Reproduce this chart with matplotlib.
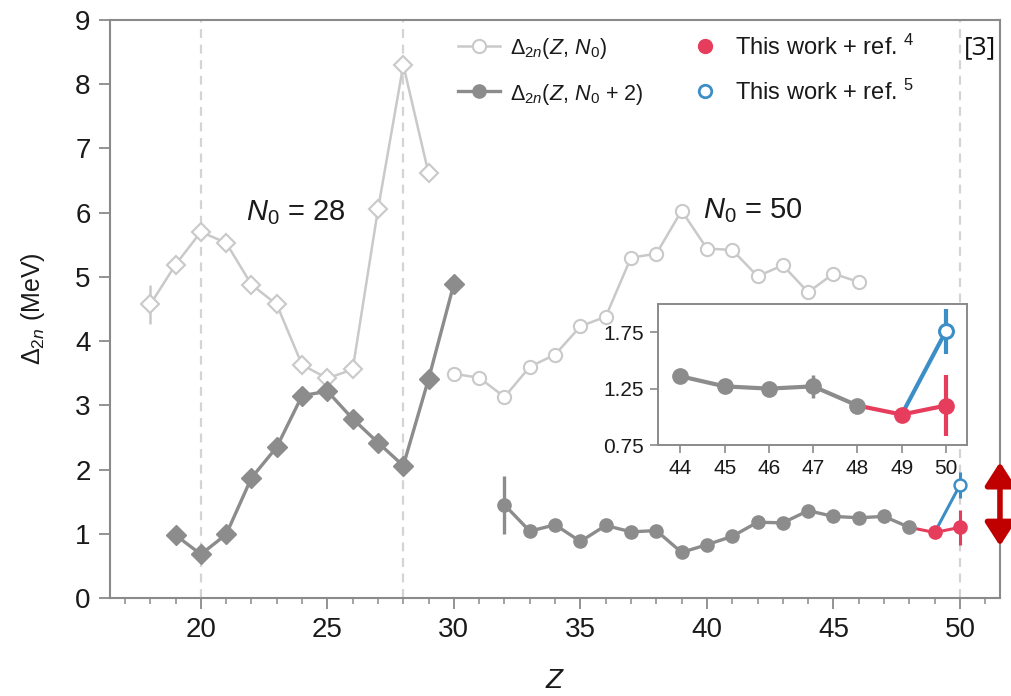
import matplotlib
matplotlib.use("Agg")
import matplotlib.pyplot as plt
from matplotlib.lines import Line2D

plt.rcParams['font.family'] = ['Liberation Sans', 'DejaVu Sans']
plt.rcParams['mathtext.fontset'] = 'custom'
plt.rcParams['mathtext.rm'] = 'Liberation Sans'
plt.rcParams['mathtext.it'] = 'Liberation Sans:italic'
plt.rcParams['mathtext.bf'] = 'Liberation Sans:bold'

# N0 = 28 region
z_n28 = list(range(18, 30))
d2n_n28 = [4.57, 5.19, 5.70, 5.53, 4.88, 4.57, 3.63, 3.42, 3.56, 6.05, 8.30, 6.61]
err_n28 = [0.3, 0, 0, 0, 0, 0, 0, 0, 0, 0, 0, 0]
z_n28p2 = list(range(19, 31))
d2n_n28p2 = [0.98, 0.68, 0.99, 1.87, 2.35, 3.15, 3.22, 2.79, 2.42, 2.06, 3.41, 4.89]

# N0 = 50 region
z_n50 = list(range(30, 47))
d2n_n50 = [3.49, 3.43, 3.13, 3.60, 3.79, 4.23, 4.38, 5.30, 5.36, 6.03, 5.44,
           5.42, 5.01, 5.18, 4.76, 5.05, 4.92]
z_n50p2 = list(range(32, 49))
d2n_n50p2 = [1.45, 1.04, 1.14, 0.88, 1.13, 1.03, 1.05, 0.71, 0.83, 0.96, 1.18,
             1.17, 1.36, 1.27, 1.25, 1.27, 1.10]
err_n50p2 = [0.45, 0, 0, 0, 0, 0, 0, 0, 0, 0, 0, 0, 0, 0, 0, 0.1, 0]

# this work + ref. 4 (red) and ref. 5 (blue)
z_red = [48, 49, 50]
d2n_red = [1.10, 1.02, 1.10]
err_red = [0, 0.03, 0.27]
z_blue = [49, 50]
d2n_blue = [1.02, 1.76]
err_blue = [0, 0.2]

shell_lines = [20, 28, 50]

LIGHT = '#c9c9c9'
DARK = '#8c8c8c'
RED = '#e63d5c'
BLUE = '#3b8ec6'
SPINE = '#8a8a8a'
TXT = '#1a1a1a'


def draw_gray_circles(ax, ms, lw):
    ax.errorbar(z_n50p2, d2n_n50p2, yerr=err_n50p2, color=DARK, lw=lw,
                marker='o', ms=ms, mec=DARK, mfc=DARK, elinewidth=lw,
                capsize=0, zorder=4)


def draw_this_work(ax, ms, lw):
    ax.plot(z_red, d2n_red, color=RED, lw=lw, zorder=3)
    ax.errorbar(z_red[1:], d2n_red[1:], yerr=err_red[1:], fmt='o', color=RED,
                ms=ms, elinewidth=lw, capsize=0, zorder=5)
    ax.plot(z_blue, d2n_blue, color=BLUE, lw=lw, zorder=3)
    ax.errorbar(z_blue[1:], d2n_blue[1:], yerr=err_blue[1:], fmt='o',
                color=BLUE, mfc='white', mew=lw * 0.8, ms=ms * 0.9,
                elinewidth=lw, capsize=0, zorder=5)


fig = plt.figure(figsize=(10.12, 6.96), dpi=100)
ax = fig.add_axes([0.1087, 0.1408, 0.8794, 0.8305])

for z in shell_lines:
    ax.axvline(z, color='#d4d4d4', lw=1.6, ls=(0, (4, 3)), zorder=1)

ax.errorbar(z_n28, d2n_n28, yerr=err_n28, color=LIGHT, lw=1.8, marker='D',
            ms=9, mfc='white', mec=LIGHT, mew=1.5, elinewidth=1.8, capsize=0,
            zorder=3)
ax.plot(z_n28p2, d2n_n28p2, color=DARK, lw=2.4, marker='D', ms=10.5,
        mfc=DARK, mec=DARK, zorder=4)
ax.plot(z_n50, d2n_n50, color=LIGHT, lw=1.8, marker='o', ms=9.5,
        mfc='white', mec=LIGHT, mew=1.5, zorder=3)
draw_gray_circles(ax, 9.5, 2.4)
draw_this_work(ax, 9.5, 2.2)

ax.set_xlim(16.41, 51.58)
ax.set_ylim(0, 9)
ax.set_xticks(range(20, 51, 5))
ax.set_xticks(range(17, 52), minor=True)
ax.set_yticks(range(0, 10))
ax.tick_params(axis='both', which='major', direction='out', length=8,
               width=1.3, color=SPINE, labelsize=20, labelcolor=TXT,
               pad=6)
ax.tick_params(axis='x', which='minor', direction='out', length=4,
               width=1.1, color=SPINE)
for s in ax.spines.values():
    s.set_color(SPINE)
    s.set_linewidth(1.5)

ax.set_xlabel('$\\mathit{Z}$', fontsize=20, color=TXT, labelpad=18)
ax.set_ylabel('$\\mathit{\\Delta}_{2n}$ (MeV)', fontsize=18, color=TXT,
              labelpad=20)

ax.text(23.75, 6.0, '$\\mathit{N}_0$ = 28', fontsize=21, ha='center',
        va='center', color=TXT)
ax.text(41.8, 6.03, '$\\mathit{N}_0$ = 50', fontsize=21, ha='center',
        va='center', color=TXT)

handles = [
    Line2D([], [], color=LIGHT, lw=1.8, marker='o', ms=9.5, mfc='white',
           mec=LIGHT, mew=1.5),
    Line2D([], [], color=DARK, lw=2.4, marker='o', ms=9.5, mfc=DARK,
           mec=DARK),
    Line2D([], [], color=RED, lw=0, marker='o', ms=10),
    Line2D([], [], color=BLUE, lw=0, marker='o', ms=9, mfc='white', mew=2),
]
labels = [
    '$\\mathit{\\Delta}_{2n}(\\mathit{Z},\\,\\mathit{N}_0)$',
    '$\\mathit{\\Delta}_{2n}(\\mathit{Z},\\,\\mathit{N}_0$ + 2)',
    'This work + ref. $^{4}$',
    'This work + ref. $^{5}$',
]
leg = ax.legend(handles, labels, ncol=2, frameon=False, fontsize=17,
                loc='upper left', bbox_to_anchor=(0.367, 1.012),
                handlelength=1.8, columnspacing=1.7, labelspacing=0.85,
                handletextpad=0.4, labelcolor=TXT)
for t in leg.get_texts()[:2]:
    t.set_fontsize(15.5)

fig.text(0.968, 0.931, '[3]', fontsize=19, ha='center', va='center',
         family=['Open Sans', 'DejaVu Sans'], color='#111111')

# double arrow beside the Z = 50 points
ax.annotate('', xy=(1.0, 0.09), xycoords='axes fraction',
            xytext=(1.0, 0.235), textcoords='axes fraction',
            arrowprops=dict(arrowstyle='<|-|>,head_length=0.7,head_width=0.45',
                            color='#c00000', lw=4, mutation_scale=20,
                            shrinkA=0, shrinkB=0),
            annotation_clip=False, zorder=10)

# inset zoom of Z = 44..50
axi = fig.add_axes([0.650, 0.3606, 0.3053, 0.2026])
axi.plot(z_n50p2[-5:], d2n_n50p2[-5:], color=DARK, lw=3, zorder=2)
axi.errorbar(z_n50p2[-5:], d2n_n50p2[-5:], yerr=err_n50p2[-5:], fmt='o',
             color=DARK, ms=11, elinewidth=2.5, capsize=0, zorder=4)
axi.plot(z_red, d2n_red, color=RED, lw=3, zorder=3)
axi.errorbar(z_red[1:], d2n_red[1:], yerr=err_red[1:], fmt='o', color=RED,
             ms=11, elinewidth=3, capsize=0, zorder=5)
axi.plot(z_blue, d2n_blue, color=BLUE, lw=3, zorder=3)
axi.errorbar(z_blue[1:], d2n_blue[1:], yerr=err_blue[1:], fmt='o',
             color=BLUE, mfc='white', mew=2.2, ms=10, elinewidth=3,
             capsize=0, zorder=5)
axi.set_xlim(43.49, 50.47)
axi.set_ylim(0.75, 2.0)
axi.set_xticks(range(44, 51))
axi.set_yticks([0.75, 1.25, 1.75])
axi.set_yticklabels(['0.75', '1.25', '1.75'])
axi.tick_params(direction='out', length=6, width=1.2, color=SPINE,
                labelsize=15, labelcolor=TXT, pad=4)
for s in axi.spines.values():
    s.set_color(SPINE)
    s.set_linewidth(1.4)

fig.savefig('out.png', dpi=100)
